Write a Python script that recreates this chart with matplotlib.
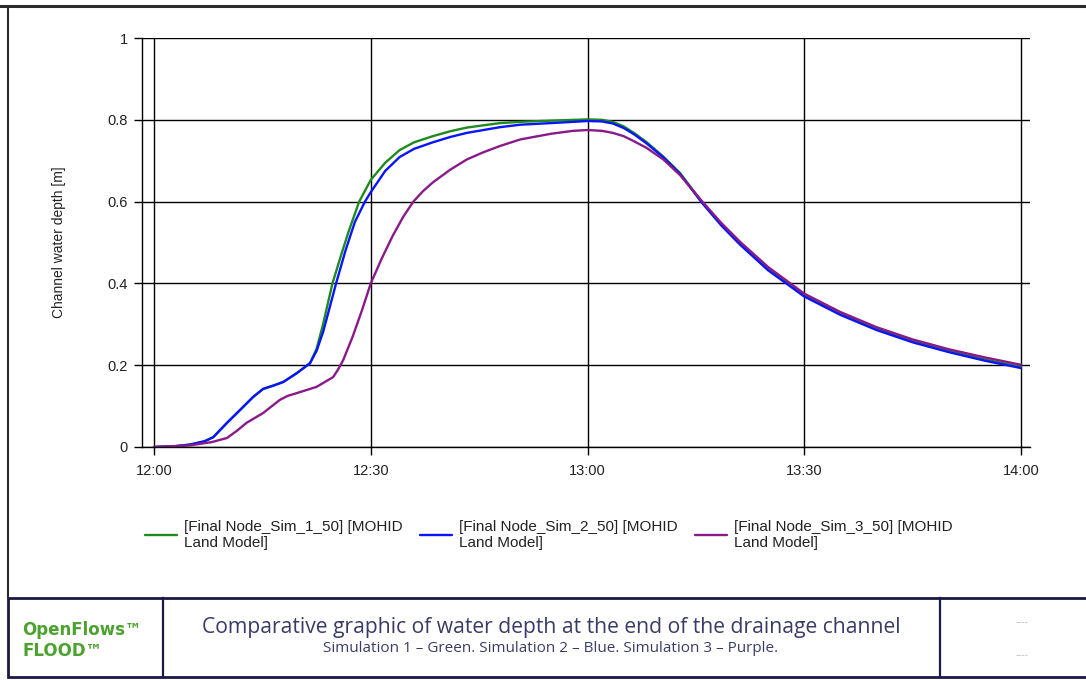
import matplotlib
matplotlib.use("Agg")
import matplotlib.pyplot as plt
from matplotlib.lines import Line2D
from matplotlib.patches import Rectangle

# ---- data (minutes after 12:00, depth in m) ----
t_sim1 = [0, 3, 5, 7, 8.2, 10.1, 12, 13.7, 15.1, 16.5, 17.9, 19.8, 21.6, 22.5, 23.4, 24.7, 26, 27, 28.4, 30, 32, 34, 36, 38.6, 41, 43.3, 47.9, 50.7, 55, 60, 62, 63.5, 65, 66.5, 68.2, 70.5, 72.8, 75.8, 78.5, 81.1, 85, 90, 95, 100, 105, 110, 115, 120]
v_sim1 = [0, 0.002, 0.006, 0.014, 0.024, 0.059, 0.092, 0.122, 0.142, 0.150, 0.159, 0.181, 0.205, 0.24, 0.30, 0.40, 0.475, 0.53, 0.60, 0.653, 0.695, 0.726, 0.745, 0.760, 0.772, 0.781, 0.792, 0.795, 0.798, 0.801, 0.800, 0.795, 0.784, 0.767, 0.745, 0.710, 0.670, 0.600, 0.545, 0.498, 0.435, 0.372, 0.327, 0.289, 0.259, 0.235, 0.214, 0.196]

t_sim2 = [0, 3, 5, 7, 8.2, 10.1, 12, 13.7, 15.1, 16.5, 17.9, 19.8, 21.6, 22.5, 23.4, 24.3, 25.2, 26.5, 27.8, 29.2, 30, 32, 34, 36, 38.6, 41, 43.3, 47.9, 50.7, 55, 60, 62, 63.5, 65, 66.5, 68.2, 70.5, 72.8, 75.8, 78.5, 81.1, 85, 90, 95, 100, 105, 110, 115, 120]
v_sim2 = [0, 0.002, 0.006, 0.014, 0.024, 0.059, 0.092, 0.122, 0.142, 0.150, 0.159, 0.181, 0.205, 0.235, 0.281, 0.34, 0.40, 0.48, 0.55, 0.60, 0.623, 0.675, 0.709, 0.729, 0.745, 0.758, 0.768, 0.782, 0.788, 0.792, 0.797, 0.796, 0.791, 0.780, 0.764, 0.742, 0.708, 0.668, 0.598, 0.542, 0.495, 0.432, 0.368, 0.323, 0.286, 0.256, 0.232, 0.211, 0.193]

t_sim3 = [0, 5, 8, 10.1, 11.5, 12.8, 15.1, 17.4, 18.5, 19.8, 22.5, 24.8, 25.5, 26.2, 27.5, 28.8, 30, 31.5, 33, 34.5, 35.9, 37.2, 38.6, 41, 43.3, 45.5, 47.9, 50.7, 55, 58, 60, 62, 63.5, 65, 66.5, 68.2, 70.5, 72.8, 75.8, 78.5, 81.1, 85, 90, 95, 100, 105, 110, 115, 120]
v_sim3 = [0, 0.004, 0.012, 0.022, 0.040, 0.059, 0.083, 0.115, 0.125, 0.132, 0.147, 0.171, 0.19, 0.213, 0.27, 0.335, 0.40, 0.46, 0.515, 0.563, 0.60, 0.625, 0.647, 0.678, 0.703, 0.720, 0.736, 0.752, 0.766, 0.773, 0.775, 0.773, 0.768, 0.760, 0.747, 0.731, 0.703, 0.665, 0.602, 0.548, 0.502, 0.440, 0.375, 0.330, 0.293, 0.263, 0.239, 0.219, 0.201]

x_ticks = [0, 30, 60, 90, 120]
x_tick_labels = ["12:00", "12:30", "13:00", "13:30", "14:00"]
y_ticks = [0, 0.2, 0.4, 0.6, 0.8, 1]
y_tick_labels = ["0", "0.2", "0.4", "0.6", "0.8", "1"]

labels = ["[Final Node_Sim_1_50] [MOHID\nLand Model]",
          "[Final Node_Sim_2_50] [MOHID\nLand Model]",
          "[Final Node_Sim_3_50] [MOHID\nLand Model]"]
colors = ["#1f8a1f", "#0a14ff", "#8a1a8a"]

W, H = 1086, 680
def fx(x): return x / W
def fy(y): return 1 - y / H

plt.rcParams['font.family'] = ['Liberation Sans', 'DejaVu Sans']
fig = plt.figure(figsize=(W / 100, H / 100), dpi=100)

ax = fig.add_axes([fx(142), fy(447), fx(1030) - fx(142), (447 - 38) / H])
lines = []
for t, v, c in zip([t_sim1, t_sim2, t_sim3], [v_sim1, v_sim2, v_sim3], colors):
    ln, = ax.plot(t, v, color=c, lw=1.7, solid_joinstyle='round', solid_capstyle='round')
    lines.append(ln)

ax.set_xlim((142 - 154) / 7.225, (1030 - 154) / 7.225)
ax.set_ylim(0, 1)
ax.set_xticks(x_ticks)
ax.set_xticklabels(x_tick_labels)
ax.set_yticks(y_ticks)
ax.set_yticklabels(y_tick_labels)
ax.grid(True, color='black', lw=1.0)
ax.set_axisbelow(True)
for s in ['top', 'right']:
    ax.spines[s].set_visible(False)
for s in ['left', 'bottom']:
    ax.spines[s].set_color('black')
    ax.spines[s].set_linewidth(1.0)
ax.tick_params(axis='both', direction='out', length=6, width=1.0, color='black',
               labelsize=10.5, pad=4, labelcolor='#222222')
ax.tick_params(axis='x', pad=6)
ax.set_ylabel("Channel water depth [m]", fontsize=10, color='#222222')
ax.yaxis.set_label_coords(-(142 - 66) / (1030 - 142), 0.5)

# legends
leg_x = [145, 420, 695]
for ln, lab, lx in zip(lines, labels, leg_x):
    lg = fig.legend([ln], [lab], loc='center left', bbox_to_anchor=(fx(lx), fy(535)),
                    frameon=False, handlelength=2.1, handletextpad=0.45,
                    borderaxespad=0, borderpad=0, prop={'size': 11})
    for txt in lg.get_texts():
        txt.set_linespacing(1.12)
        txt.set_color('#222222')

# outer frame
fig.add_artist(Line2D([fx(0), fx(1086)], [fy(6), fy(6)], color='#2a2a2a', lw=2.2))
fig.add_artist(Line2D([fx(8), fx(8)], [fy(6), fy(598)], color='#2a2a2a', lw=1.5))

# footer
navy = '#1b1746'
fig.add_artist(Rectangle((fx(8), fy(677)), fx(1086 + 5) - fx(8), fy(598) - fy(677),
                         facecolor='white', edgecolor=navy, lw=2.0))
fig.add_artist(Line2D([fx(163), fx(163)], [fy(598), fy(677)], color=navy, lw=1.6))
fig.add_artist(Line2D([fx(940), fx(940)], [fy(598), fy(677)], color=navy, lw=1.6))

green_txt = '#4ca22f'
fig.text(fx(22), fy(630), "OpenFlows™", color=green_txt, fontsize=12, fontweight='bold',
         family=['DejaVu Sans'], va='center', ha='left')
fig.text(fx(22), fy(651), "FLOOD™", color=green_txt, fontsize=12, fontweight='bold',
         family=['DejaVu Sans'], va='center', ha='left')
fig.text(fx(551), fy(627), "Comparative graphic of water depth at the end of the drainage channel",
         color='#3b3c66', fontsize=15.2, family=['Open Sans', 'DejaVu Sans'], va='center', ha='center')
fig.text(fx(551), fy(648), "Simulation 1 – Green. Simulation 2 – Blue. Simulation 3 – Purple.",
         color='#3b3c66', fontsize=11, family=['Open Sans', 'DejaVu Sans'], va='center', ha='center')
fig.text(fx(1022), fy(622), "----", color='#bbbbbb', fontsize=7, va='center', ha='center')
fig.text(fx(1022), fy(655), "----", color='#bbbbbb', fontsize=7, va='center', ha='center')

fig.savefig("out.png", dpi=100)
